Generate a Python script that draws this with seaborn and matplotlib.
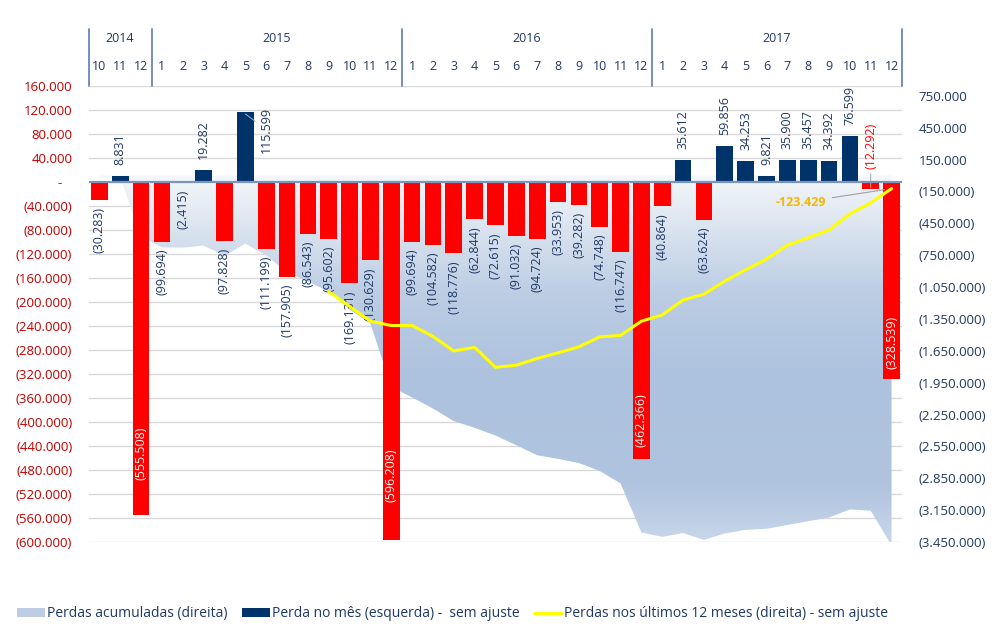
import numpy as np
import pandas as pd
import matplotlib
matplotlib.use('Agg')
import matplotlib.pyplot as plt
from matplotlib.colors import LinearSegmentedColormap
from matplotlib.patches import Patch
from matplotlib.lines import Line2D
from matplotlib.ticker import FuncFormatter
import seaborn as sns


# dados
anos = ['2014', '2015', '2016', '2017']
meses_por_ano = [3, 12, 12, 12]
meses = [10, 11, 12,
         1, 2, 3, 4, 5, 6, 7, 8, 9, 10, 11, 12,
         1, 2, 3, 4, 5, 6, 7, 8, 9, 10, 11, 12,
         1, 2, 3, 4, 5, 6, 7, 8, 9, 10, 11, 12]

# perda no mes (esquerda)
perda_mes = [-30283, 8831, -555508,
             -99694, -2415, 19282, -97828, 115599, -111199, -157905, -86543, -95602, -169131, -130629, -596208,
             -99694, -104582, -118776, -62844, -72615, -91032, -94724, -33953, -39282, -74748, -116747, -462366,
             -40864, 35612, -63624, 59856, 34253, 9821, 35900, 35457, 34392, 76599, -12292, -328539]

# perdas acumuladas (direita)
perdas_acumuladas = [-30283, -21452, -576960,
                     -676654, -679069, -659787, -757615, -642016, -753215, -911120, -997663, -1093265,
                     -1262396, -1393025, -1989233,
                     -2088927, -2193509, -2312285, -2375129, -2447744, -2538776, -2633500, -2667453,
                     -2706735, -2781483, -2898230, -3360596,
                     -3401460, -3365848, -3429472, -3369616, -3335363, -3325542, -3289642, -3254185,
                     -3219793, -3143194, -3155486, -3484025]

# perdas nos ultimos 12 meses (direita), a partir de 2015-09
mes_inicio_12m = 11
perdas_12m = [-1093265, -1232113, -1371573, -1412273,
              -1412273, -1514440, -1652498, -1617514, -1805728, -1785561, -1722380, -1669790,
              -1613470, -1519087, -1505205, -1371363,
              -1312533, -1172339, -1117187, -994487, -887619, -786766, -656142, -586732,
              -513058, -361711, -257256, -123429]

# cores
vermelho = '#ff0000'
azul = '#00336a'
txt_azul = '#1f3864'
vermelho_eixo = '#c00000'


def fmt(v):
    s = f"{abs(int(round(v))):,}".replace(',', '.')
    return s if v >= 0 else f"({s})"


sns.set_theme(style='white')
plt.rcParams['font.family'] = ['Open Sans', 'DejaVu Sans']

fig = plt.figure(figsize=(10.02, 6.4), dpi=100)
ax = fig.add_axes([0.0888, 0.1531, 0.8114, 0.713])
ax2 = ax.twinx()
ax3 = ax.twinx()
ax2.set_zorder(1)
ax.set_zorder(2)
ax3.set_zorder(3)
ax.patch.set_visible(False)
ax2.patch.set_visible(True)
ax2.patch.set_facecolor('white')

xs = np.arange(len(perda_mes))
ylim_esq = (-600000, 160000)
ylim_dir = (-3450000, 845000)

# linhas de grade (escala da esquerda) atras da area
ticks_esq = np.arange(-600000, 160001, 40000)
for t in ticks_esq:
    ax2.plot([0, 1], [t, t], transform=ax.get_yaxis_transform(), color='#d9d9d9', lw=1, zorder=0)

# area com degrade
area = ax2.fill_between(xs, perdas_acumuladas, 0, facecolor='none', edgecolor='none', lw=0)
cmap = LinearSegmentedColormap.from_list('area', [(0, '#f4f7fb'), (0.12, '#dfe7f1'), (0.32, '#bccde4'),
                                                  (0.55, '#adc2de'), (0.85, '#b0c4df'), (1, '#c8d7ea')])
grad = np.linspace(0, 1, 256).reshape(-1, 1)
img = ax2.imshow(grad, extent=[0, len(xs) - 1, ylim_dir[0], 0], origin='upper', aspect='auto',
                 cmap=cmap, zorder=1, interpolation='bilinear')
img.set_clip_path(area.get_paths()[0], transform=ax2.transData)

# barras
df = pd.DataFrame({'mes': xs, 'perda': perda_mes,
                   'sinal': np.where(np.array(perda_mes) < 0, 'neg', 'pos')})
sns.barplot(data=df, x='mes', y='perda', hue='sinal', palette={'neg': vermelho, 'pos': azul},
            dodge=False, width=0.8, saturation=1, linewidth=0, legend=False, ax=ax)
ax.axhline(0, color='#7d95bd', lw=1.6, zorder=5)

# rotulos das barras
dentro = {2: -452000, 14: -489000, 26: -397000, 38: -268000}
for i, v in enumerate(perda_mes):
    txt = fmt(v)
    if i in dentro:
        ax.text(i, dentro[i], txt, rotation=90, ha='center', va='center', color='white', fontsize=9, zorder=6)
    elif i == 7:
        ax.annotate(txt, xy=(i, 113000), xytext=(i + 1, 87000), rotation=90, ha='center', va='center',
                    color=txt_azul, fontsize=9,
                    arrowprops=dict(arrowstyle='-', color='#9fb2cf', lw=0.7, shrinkA=1, shrinkB=0))
    elif i == 37:
        ax.annotate(txt, xy=(i, -10000), xytext=(i, 59600), rotation=90, ha='center', va='center',
                    color=vermelho, fontsize=9,
                    arrowprops=dict(arrowstyle='-', color='#a6a6a6', lw=0.7, shrinkA=1, shrinkB=0))
    elif v > 0:
        ax.annotate(txt, xy=(i, v), xytext=(0, 8), textcoords='offset points', rotation=90,
                    ha='center', va='bottom', color=txt_azul, fontsize=9)
    else:
        ax.annotate(txt, xy=(i, v), xytext=(0, -5), textcoords='offset points', rotation=90,
                    ha='center', va='top', color=txt_azul, fontsize=9)

# linha ultimos 12 meses
x12 = np.arange(mes_inicio_12m, mes_inicio_12m + len(perdas_12m))
sns.lineplot(x=x12, y=perdas_12m, color='#ffff00', lw=2.2, ax=ax3)
ax3.annotate(f"{perdas_12m[-1]:,}".replace(',', '.'), xy=(x12[-1], perdas_12m[-1]), xytext=(-47, -10),
             textcoords='offset points', ha='right', va='center', color='#f5b800', fontweight='bold',
             fontsize=9, arrowprops=dict(arrowstyle='-', color='#a0a0a0', lw=0.8, shrinkA=2, shrinkB=5))

# eixos
for a in (ax, ax2, ax3):
    a.set_xlim(-0.5, len(xs) - 0.5)
    for s in a.spines.values():
        s.set_visible(False)
    a.set_xlabel('')
    a.set_ylabel('')
ax.set_ylim(*ylim_esq)
ax2.set_ylim(*ylim_dir)
ax3.set_ylim(*ylim_dir)
ax.set_xticks([])
ax.set_yticks(ticks_esq)
ax.yaxis.set_major_formatter(FuncFormatter(lambda v, p: '-   ' if v == 0 else fmt(v)))
ax.tick_params(axis='y', length=0, pad=12, labelcolor=vermelho_eixo, labelsize=9.5)
ax2.set_yticks(np.arange(-3450000, 750001, 300000))
ax2.yaxis.set_major_formatter(FuncFormatter(lambda v, p: fmt(v)))
ax2.tick_params(axis='y', length=0, pad=12, labelcolor=txt_azul, labelsize=9.5)
ax3.axis('off')

# cabecalho de meses e anos
tr = ax.get_xaxis_transform()
for i, m in enumerate(meses):
    ax.text(i, 1.0417, str(m), transform=tr, ha='center', va='center', fontsize=9,
            color=txt_azul, clip_on=False)
inicio = 0
ax.plot([-0.5, -0.5], [1.0, 1.124], transform=tr, color='#6a86b4', lw=1.3, clip_on=False)
for ano, n in zip(anos, meses_por_ano):
    ax.text(inicio + (n - 1) / 2, 1.104, ano, transform=tr, ha='center', va='center', fontsize=9,
            color=txt_azul, clip_on=False)
    inicio += n
    ax.plot([inicio - 0.5, inicio - 0.5], [1.0, 1.124], transform=tr, color='#6a86b4', lw=1.3, clip_on=False)

# legenda
handles = [Patch(facecolor='#bccde4', edgecolor='none'),
           Patch(facecolor=azul, edgecolor='none'),
           Line2D([], [], color='#ffff00', lw=2.2)]
labels = ['Perdas acumuladas (direita)', 'Perda no mês (esquerda) -  sem ajuste',
          'Perdas nos últimos 12 meses (direita) - sem ajuste']
fig.legend(handles, labels, loc='center', bbox_to_anchor=(0.452, 0.041), ncol=3, frameon=False,
           fontsize=10, handlelength=2.0, handleheight=0.6, columnspacing=1.05, handletextpad=0.15,
           labelcolor=txt_azul)

fig.savefig('out.png', dpi=100)
